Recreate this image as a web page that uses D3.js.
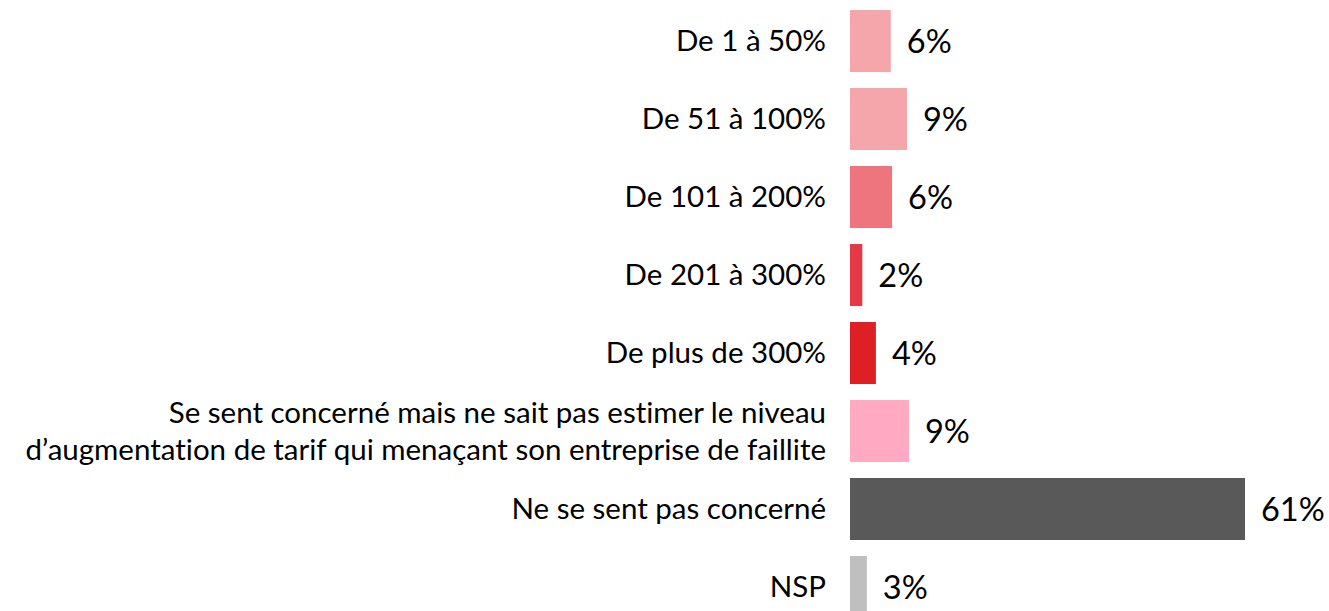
<!DOCTYPE html>
<html>
<head>
<meta charset="utf-8">
<script src="https://cdn.jsdelivr.net/npm/d3@7"></script>
<style>
  html, body { margin: 0; padding: 0; background: #fff; }
  svg { display: block; }
  text { font-variant-ligatures: none; }
</style>
</head>
<body>
<svg id="chart" width="1329" height="611"></svg>
<script>
const categories = [
  ["De 1 à 50%"],
  ["De 51 à 100%"],
  ["De 101 à 200%"],
  ["De 201 à 300%"],
  ["De plus de 300%"],
  ["Se sent concerné mais ne sait pas estimer le niveau", "d’augmentation de tarif qui menaçant son entreprise de faillite"],
  ["Ne se sent pas concerné"],
  ["NSP"]
];
const values = [6.3, 8.8, 6.5, 1.9, 4.0, 9.1, 61, 2.6];
const valueLabels = ["6%", "9%", "6%", "2%", "4%", "9%", "61%", "3%"];
const colors = ["#F4A6AA", "#F4A6AA", "#EE757D", "#E63946", "#DE1F26", "#FFA9C2", "#595959", "#BFBFBF"];

const svg = d3.select("#chart");
const font = "Lato, 'Open Sans', sans-serif";

const x = d3.scaleLinear().domain([0, 61]).range([850, 1245]);
const y = d3.scaleBand().domain(d3.range(categories.length)).range([2, 626])
  .paddingInner(0.205).paddingOuter(0.1025);

svg.selectAll("rect.bar").data(values).join("rect")
  .attr("class", "bar")
  .attr("x", x(0))
  .attr("y", (d, i) => y(i))
  .attr("width", d => x(d) - x(0))
  .attr("height", y.bandwidth())
  .attr("fill", (d, i) => colors[i]);

svg.selectAll("text.val").data(values).join("text")
  .attr("class", "val")
  .attr("x", d => x(d) + 16)
  .attr("y", (d, i) => y(i) + y.bandwidth() / 2)
  .attr("dy", "0.38em")
  .attr("font-family", font)
  .attr("font-size", 32.5)
  .attr("fill", "#000")
  .text((d, i) => valueLabels[i]);

const labelG = svg.selectAll("text.cat").data(categories).join("text")
  .attr("class", "cat")
  .attr("text-anchor", "end")
  .attr("font-family", font)
  .attr("font-size", 29.5)
  .attr("fill", "#000");

labelG.each(function(lines, i) {
  const t = d3.select(this);
  const cy = y(i) + y.bandwidth() / 2;
  const lh = 37;
  const start = cy - (lines.length - 1) * lh / 2;
  lines.forEach((ln, j) => {
    t.append("tspan")
      .attr("x", 826)
      .attr("y", start + j * lh)
      .attr("dy", "0.35em")
      .text(ln);
  });
});
</script>
</body>
</html>
